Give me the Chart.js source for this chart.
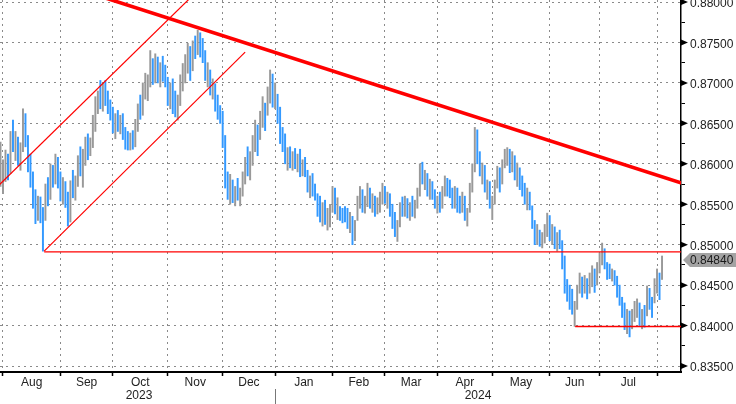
<!DOCTYPE html>
<html>
<head>
<meta charset="utf-8">
<script src="https://cdn.jsdelivr.net/npm/chart.js@4/dist/chart.umd.min.js"></script>
<style>
  html, body { margin: 0; padding: 0; background: #fff; }
  #wrap { width: 736px; height: 404px; }
</style>
</head>
<body>
<div id="wrap"><canvas id="c" width="736" height="404"></canvas></div>
<script>
// ---- Data (weekday index from 31 Jul 2023) ----
const highs = [
.8627,.8605,.8617,.8612,.8640,.8654,.8640,.8633,.8626,.8668,.8662,.8635,.8612,.8590,.8568,.8560,.8559,.8546,.8575,.8583,
.8600,.8598,.8612,.8608,.8590,.8583,.8578,.8565,.8579,.8592,.8585,.8610,.8621,.8618,.8633,.8637,.8632,.8660,.8683,.8690,
.8703,.8700,.8703,.8690,.8679,.8670,.8662,.8666,.8660,.8662,.8645,.8640,.8638,.8641,.8655,.8674,.8685,.8700,.8712,.8710,
.8740,.8730,.8736,.8732,.8725,.8733,.8722,.8707,.8700,.8705,.8690,.8685,.8710,.8724,.8735,.8749,.8745,.8752,.8758,.8765,
.8762,.8755,.8740,.8725,.8716,.8705,.8699,.8685,.8672,.8665,.8635,.8590,.8587,.8580,.8572,.8582,.8570,.8590,.8608,.8621,
.8615,.8635,.8654,.8648,.8665,.8683,.8675,.8695,.8716,.8711,.8700,.8686,.8670,.8645,.8637,.8620,.8621,.8615,.8619,.8612,
.8618,.8605,.8608,.8592,.8585,.8588,.8575,.8563,.8560,.8552,.8555,.8545,.8550,.8572,.8570,.8558,.8547,.8545,.8547,.8545,
.8540,.8535,.8530,.8560,.8572,.8568,.8560,.8576,.8570,.8563,.8560,.8558,.8565,.8576,.8572,.8565,.8563,.8550,.8540,.8530,
.8552,.8559,.8560,.8557,.8552,.8560,.8555,.8570,.8600,.8602,.8592,.8588,.8581,.8578,.8568,.8560,.8565,.8572,.8585,.8582,
.8580,.8570,.8572,.8570,.8560,.8565,.8560,.8545,.8576,.8600,.8645,.8642,.8615,.8601,.8598,.8580,.8578,.8560,.8580,.8597,
.8595,.8605,.8618,.8620,.8618,.8615,.8610,.8601,.8595,.8585,.8576,.8570,.8565,.8548,.8530,.8525,.8518,.8515,.8525,.8539,
.8536,.8525,.8522,.8515,.8518,.8505,.8486,.8457,.8450,.8445,.8430,.8450,.8465,.8460,.8462,.8458,.8465,.8474,.8470,.8478,
.8490,.8502,.8495,.8478,.8476,.8470,.8468,.8461,.8450,.8435,.8428,.8420,.8418,.8420,.8430,.8433,.8428,.8420,.8425,.8449,
.8446,.8435,.8458,.8470,.8465,.8486
];
const lows = [
.8572,.8563,.8578,.8580,.8588,.8615,.8604,.8598,.8592,.8615,.8621,.8590,.8571,.8545,.8526,.8530,.8527,.8492,.8530,.8548,
.8556,.8571,.8575,.8570,.8554,.8550,.8546,.8523,.8528,.8558,.8555,.8572,.8585,.8571,.8598,.8605,.8610,.8620,.8640,.8662,
.8668,.8665,.8672,.8662,.8654,.8638,.8631,.8640,.8637,.8630,.8618,.8617,.8617,.8618,.8621,.8640,.8655,.8660,.8680,.8678,
.8695,.8698,.8700,.8700,.8695,.8702,.8695,.8672,.8668,.8662,.8658,.8654,.8672,.8690,.8700,.8712,.8703,.8715,.8730,.8735,
.8732,.8725,.8703,.8695,.8685,.8680,.8665,.8655,.8650,.8620,.8570,.8556,.8550,.8552,.8548,.8555,.8548,.8560,.8575,.8585,
.8580,.8598,.8615,.8610,.8630,.8645,.8641,.8660,.8675,.8670,.8668,.8650,.8625,.8615,.8600,.8592,.8595,.8592,.8594,.8590,
.8584,.8585,.8584,.8565,.8558,.8560,.8555,.8535,.8528,.8523,.8525,.8518,.8522,.8540,.8538,.8531,.8530,.8527,.8528,.8520,
.8515,.8500,.8505,.8530,.8545,.8540,.8539,.8547,.8545,.8540,.8535,.8538,.8540,.8550,.8551,.8545,.8535,.8520,.8510,.8504,
.8522,.8535,.8535,.8533,.8530,.8535,.8533,.8545,.8560,.8575,.8568,.8560,.8556,.8556,.8545,.8539,.8540,.8545,.8560,.8560,
.8558,.8545,.8545,.8540,.8539,.8540,.8530,.8523,.8540,.8565,.8590,.8600,.8585,.8575,.8565,.8556,.8545,.8531,.8550,.8570,
.8565,.8575,.8595,.8598,.8589,.8590,.8580,.8572,.8568,.8560,.8550,.8543,.8543,.8520,.8500,.8500,.8498,.8496,.8502,.8510,
.8505,.8500,.8495,.8492,.8495,.8470,.8440,.8430,.8420,.8414,.8399,.8420,.8440,.8435,.8440,.8433,.8440,.8448,.8441,.8450,
.8465,.8475,.8470,.8457,.8458,.8455,.8450,.8435,.8425,.8410,.8395,.8390,.8386,.8396,.8405,.8410,.8400,.8396,.8398,.8412,
.8420,.8410,.8428,.8440,.8432,.8457
];
const closes = [
.8580,.8596,.8608,.8590,.8632,.8622,.8630,.8605,.8620,.8650,.8630,.8598,.8580,.8552,.8540,.8552,.8535,.8530,.8568,.8560,
.8592,.8580,.8605,.8578,.8565,.8572,.8552,.8530,.8570,.8565,.8580,.8602,.8595,.8612,.8625,.8615,.8628,.8652,.8672,.8685,
.8680,.8695,.8678,.8668,.8660,.8645,.8655,.8648,.8652,.8638,.8630,.8622,.8632,.8625,.8650,.8668,.8662,.8692,.8698,.8702,
.8720,.8705,.8728,.8710,.8718,.8712,.8700,.8680,.8690,.8670,.8665,.8678,.8702,.8715,.8728,.8740,.8718,.8745,.8740,.8758,
.8750,.8730,.8712,.8718,.8692,.8698,.8675,.8662,.8660,.8630,.8580,.8565,.8575,.8558,.8568,.8560,.8565,.8585,.8600,.8595,
.8610,.8628,.8640,.8635,.8660,.8670,.8665,.8688,.8700,.8682,.8690,.8660,.8632,.8622,.8608,.8615,.8600,.8610,.8598,.8605,
.8592,.8600,.8590,.8572,.8580,.8565,.8562,.8545,.8535,.8540,.8530,.8538,.8545,.8565,.8545,.8552,.8540,.8538,.8535,.8525,
.8532,.8510,.8525,.8555,.8560,.8548,.8555,.8568,.8552,.8558,.8545,.8550,.8560,.8570,.8558,.8562,.8540,.8528,.8520,.8525,
.8548,.8545,.8552,.8540,.8548,.8540,.8550,.8565,.8590,.8580,.8585,.8565,.8575,.8562,.8550,.8555,.8545,.8568,.8578,.8575,
.8565,.8552,.8565,.8548,.8545,.8560,.8535,.8540,.8570,.8590,.8635,.8610,.8590,.8595,.8570,.8575,.8550,.8555,.8575,.8590,
.8580,.8600,.8610,.8615,.8598,.8608,.8585,.8590,.8575,.8565,.8555,.8560,.8548,.8525,.8512,.8520,.8505,.8510,.8520,.8532,
.8515,.8520,.8500,.8510,.8498,.8478,.8450,.8440,.8435,.8420,.8425,.8445,.8455,.8448,.8458,.8440,.8460,.8462,.8450,.8470,
.8485,.8495,.8478,.8470,.8462,.8465,.8455,.8440,.8430,.8420,.8400,.8412,.8395,.8415,.8420,.8425,.8405,.8415,.8402,.8440,
.8430,.8415,.8452,.8460,.8445,.8484
];

// month boundaries (weekday index) and month labels
const monthStarts = [1, 24, 45, 67, 89, 110, 133, 154, 175, 197, 220, 240, 263];
const monthLabels = ['Aug','Sep','Oct','Nov','Dec','Jan','Feb','Mar','Apr','May','Jun','Jul'];
const yearLabels = ['2023', '2024'];
const yearBoundary = 110;

// y axis major ticks
const priceTicks = [0.835,0.840,0.845,0.850,0.855,0.860,0.865,0.870,0.875,0.880];

// drawn lines (index, price)
const trendDown   = [{x: 40, y: 0.8807}, {x: 273, y: 0.8576}];
const channelUp   = [{x: -0.5, y: 0.8574}, {x: 76, y: 0.8805}];
const channelLow  = [{x: 17.5, y: 0.8492}, {x: 98, y: 0.8738}];
const support1    = [{x: 17.5, y: 0.8491}, {x: 273, y: 0.8491}];
const support2    = [{x: 230.2, y: 0.8399}, {x: 273, y: 0.8399}];

// ---- build ----
const X_MIN = -0.2, X_MAX = 272.6;
const Y_MIN = 0.83426, Y_MAX = 0.88025;
const BLUE = '#3399ff', GREY = '#999999';

const barData = closes.map((c, i) => ({ x: i, y: [lows[i], highs[i]] }));
const barColors = closes.map((c, i) => (i > 0 && c < closes[i - 1]) ? BLUE : GREY);

const monthMids = monthLabels.map((m, k) => (monthStarts[k] + monthStarts[k + 1]) / 2);
const boundarySet = new Set(monthStarts);
const xTickVals = monthStarts.concat(monthMids).sort((a, b) => a - b);
const yearMids = [(monthStarts[0] + yearBoundary) / 2, (yearBoundary + X_MAX) / 2];

const yTickVals = [];
priceTicks.forEach((v, k) => { yTickVals.push(v); if (k < priceTicks.length - 1) yTickVals.push(+(v + 0.0025).toFixed(4)); });
const isMajor = v => Math.abs(v * 200 - Math.round(v * 200)) < 1e-6;

const font = { family: '"Liberation Sans", Arial, sans-serif', size: 12, lineHeight: 1 };

const decor = {
  id: 'decor',
  beforeDraw(chart) {
    const ctx = chart.ctx;
    ctx.save(); ctx.fillStyle = '#fff'; ctx.fillRect(0, 0, chart.width, chart.height); ctx.restore();
  },
  afterDraw(chart) {
    const ctx = chart.ctx, ys = chart.scales.y, xs = chart.scales.x, area = chart.chartArea;
    ctx.save();
    ctx.fillStyle = '#000';
    priceTicks.forEach(v => {
      const py = ys.getPixelForValue(v);
      ctx.beginPath();
      ctx.moveTo(area.right, py - 3);
      ctx.lineTo(area.right + 7, py);
      ctx.lineTo(area.right, py + 3);
      ctx.closePath(); ctx.fill();
    });
    const last = closes[closes.length - 1];
    const cy = ys.getPixelForValue(last) + 2.4;
    const x0 = area.right + 2, x1 = area.right + 9, x2 = chart.width;
    ctx.fillStyle = '#a3a3a3';
    ctx.beginPath();
    ctx.moveTo(x0, cy);
    ctx.lineTo(x1, cy - 7);
    ctx.lineTo(x2, cy - 7);
    ctx.lineTo(x2, cy + 7);
    ctx.lineTo(x1, cy + 7);
    ctx.closePath(); ctx.fill();
    ctx.fillStyle = '#1a1a1a';
    ctx.font = '12px "Liberation Sans", Arial, sans-serif';
    ctx.textBaseline = 'middle'; ctx.textAlign = 'left';
    ctx.fillText(last.toFixed(5), area.right + 9, cy + 0.5);
    const sx = Math.round(xs.getPixelForValue(yearBoundary)) + 0.5;
    ctx.strokeStyle = '#777'; ctx.lineWidth = 1;
    ctx.beginPath(); ctx.moveTo(sx, area.bottom + 17); ctx.lineTo(sx, chart.height); ctx.stroke();
    ctx.restore();
  }
};

const lineDs = (data, w) => ({
  type: 'line', data, borderColor: '#ff0000', borderWidth: w, pointRadius: 0,
  tension: 0, fill: false, parsing: true, order: 0
});

new Chart(document.getElementById('c'), {
  type: 'bar',
  data: {
    datasets: [
      { type: 'bar', data: barData, backgroundColor: barColors, borderWidth: 0,
        barThickness: 1.3, grouped: false, order: 1 },
      lineDs(channelUp, 1.2),
      lineDs(channelLow, 1.2),
      lineDs(support1, 1.2),
      lineDs(support2, 1.5),
      lineDs(trendDown, 3.6)
    ]
  },
  options: {
    responsive: false,
    animation: false,
    devicePixelRatio: 1,
    layout: { padding: 0 },
    plugins: { legend: { display: false }, tooltip: { enabled: false } },
    scales: {
      x: {
        type: 'linear', position: 'bottom', min: X_MIN, max: X_MAX, offset: false, weight: 0,
        afterBuildTicks: s => { s.ticks = xTickVals.map(v => ({ value: v })); },
        ticks: {
          autoSkip: false, maxRotation: 0, minRotation: 0, padding: 1, color: '#222', font,
          callback: v => { const k = monthMids.indexOf(v); return k >= 0 ? monthLabels[k] : ''; }
        },
        grid: {
          offset: false, lineWidth: 1, tickLength: 4, drawTicks: true,
          color: c => (c.tick && boundarySet.has(c.tick.value)) ? '#8a8a8a' : 'rgba(0,0,0,0)',
          tickColor: c => (c.tick && boundarySet.has(c.tick.value)) ? '#000' : 'rgba(0,0,0,0)',
          tickWidth: 1.5
        },
        border: { display: true, color: '#000', width: 2, dash: [2, 4] },
        afterFit: s => { s.height = 18; s.paddingLeft = 0; s.paddingRight = 0; }
      },
      xYear: {
        type: 'linear', position: 'bottom', min: X_MIN, max: X_MAX, offset: false, weight: 1,
        afterBuildTicks: s => { s.ticks = yearMids.map(v => ({ value: v })); },
        ticks: {
          autoSkip: false, maxRotation: 0, minRotation: 0, padding: 0, color: '#222', font,
          callback: (v, i) => yearLabels[i]
        },
        grid: { display: false, drawTicks: false },
        border: { display: false },
        afterFit: s => { s.height = 14; s.paddingLeft = 0; s.paddingRight = 0; }
      },
      y: {
        type: 'linear', position: 'right', min: Y_MIN, max: Y_MAX,
        afterBuildTicks: s => { s.ticks = yTickVals.map(v => ({ value: v })); },
        ticks: {
          autoSkip: false, padding: 5, labelOffset: 2, color: '#222', font,
          callback: v => isMajor(v) ? v.toFixed(5) : ''
        },
        grid: {
          lineWidth: 1, tickLength: 4, drawTicks: true,
          color: c => (c.tick && isMajor(c.tick.value)) ? '#8a8a8a' : 'rgba(0,0,0,0)',
          tickColor: c => (c.tick && !isMajor(c.tick.value)) ? '#000' : 'rgba(0,0,0,0)',
          tickWidth: 1
        },
        border: { display: true, color: '#000', width: 1.5, dash: [2, 4] },
        afterFit: s => { s.width = 55; s.paddingTop = 0; s.paddingBottom = 0; }
      }
    }
  },
  plugins: [decor]
});
</script>
</body>
</html>
